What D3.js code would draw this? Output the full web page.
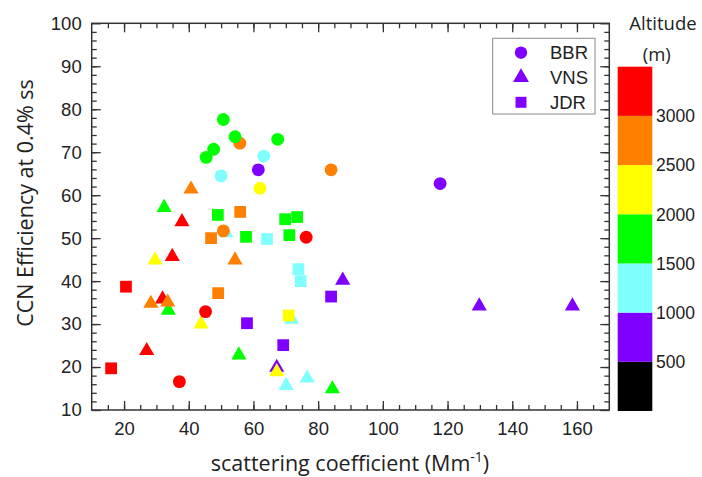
<!DOCTYPE html>
<html>
<head>
<meta charset="utf-8">
<script src="https://d3js.org/d3.v7.min.js"></script>
<style>
  body { margin: 0; background: #fff; }
  svg { display: block; }
</style>
</head>
<body>
<div id="chart"></div>
<script>
// [scattering, CCN efficiency, altitude]
const vns = [
  [40.7, 61.4, 2750], [32.4, 57.1, 1750], [37.9, 53.8, 3250], [51.5, 51.2, 1250],
  [29.6, 44.9, 2250], [34.9, 45.7, 3250], [54.3, 44.9, 2750], [87.6, 40.2, 750],
  [33.7, 33.2, 1750], [31.9, 35.8, 3250], [28.3, 34.8, 2750], [33.5, 35.1, 2750],
  [43.8, 30.0, 2250], [71.8, 31.1, 1250], [27.0, 23.8, 3250], [55.5, 22.8, 1750],
  [67.2, 19.9, 750], [67.2, 18.9, 2250], [70.1, 15.7, 1250], [76.6, 17.4, 1250],
  [84.4, 14.9, 1750], [129.8, 34.2, 750], [158.6, 34.2, 750]
];
const jdr = [
  [49.0, 55.4, 1750], [55.9, 56.1, 2750], [69.8, 54.4, 1750], [73.5, 54.9, 1750],
  [46.9, 50.0, 2750], [57.7, 50.3, 1750], [64.2, 49.8, 1250], [71.1, 50.7, 1750],
  [73.9, 42.8, 1250], [74.6, 40.0, 1250], [20.6, 38.7, 3250], [49.1, 37.2, 2750],
  [84.0, 36.4, 750], [58.0, 30.2, 750], [70.9, 32.0, 2250], [69.2, 25.1, 750],
  [16.0, 19.7, 3250]
];
const bbr = [
  [55.8, 72.1, 2750], [50.7, 77.6, 1750], [54.3, 73.6, 1750], [67.5, 73.0, 1750],
  [47.7, 70.7, 1750], [45.4, 68.8, 1750], [63.2, 69.1, 1250], [61.5, 65.9, 750],
  [84.0, 65.9, 2750], [50.0, 64.5, 1250], [62.0, 61.6, 2250], [50.7, 51.7, 2750],
  [76.3, 50.2, 3250], [45.2, 32.9, 3250], [37.1, 16.6, 3250], [117.7, 62.7, 750]
];
const altBreaks = [500, 1000, 1500, 2000, 2500, 3000];
const altColors = ['#000000', '#8000ff', '#80ffff', '#00ff00', '#ffff00', '#ff8000', '#ff0000'];
const xTicks = [20, 40, 60, 80, 100, 120, 140, 160];
const yTicks = [10, 20, 30, 40, 50, 60, 70, 80, 90, 100];

const W = 702, H = 477;
const svg = d3.select('#chart').append('svg')
  .attr('width', W).attr('height', H)
  .attr('xmlns', 'http://www.w3.org/2000/svg');

const x = d3.scaleLinear().domain([10, 170]).range([91.7, 609.3]);
const y = d3.scaleLinear().domain([10, 100]).range([410, 23.3]);
const color = d3.scaleThreshold().domain(altBreaks).range(altColors);

const tickFont = 'Liberation Sans, Arial, sans-serif';
const axisColor = '#333';

// 散点：三角形 -> 方块 -> 圆
const layers = [
  { data: vns, type: d3.symbolTriangle, size: 100 },
  { data: jdr, type: d3.symbolSquare, size: 138 },
  { data: bbr, type: d3.symbolCircle, size: 130 }
];
layers.forEach(l => {
  svg.append('g').selectAll('path')
    .data(l.data)
    .enter().append('path')
    .attr('d', d3.symbol().type(l.type).size(l.size))
    .attr('transform', d => `translate(${x(d[0])},${y(d[1])})`)
    .attr('fill', d => color(d[2]));
});

// 坐标轴（刻度朝内）
function styleAxis(g) {
  g.select('.domain').remove();
  g.selectAll('line').attr('stroke', axisColor).attr('stroke-width', 1.3);
  g.selectAll('text').attr('fill', '#222').style('font-family', tickFont).style('font-size', '18.5px');
}
const xMinor = d3.range(15, 170, 5);
const yMinor = d3.range(12, 100, 2);

svg.append('g').attr('transform', 'translate(0,410)')
  .call(d3.axisBottom(x).tickValues(xTicks).tickSize(-9).tickSizeOuter(0).tickPadding(12))
  .call(styleAxis);
svg.append('g').attr('transform', 'translate(0,410)')
  .call(d3.axisBottom(x).tickValues(xMinor).tickSize(-5).tickFormat(''))
  .call(styleAxis);
svg.append('g').attr('transform', 'translate(0,23.3)')
  .call(d3.axisTop(x).tickValues(xTicks).tickSize(-9).tickFormat(''))
  .call(styleAxis);
svg.append('g').attr('transform', 'translate(0,23.3)')
  .call(d3.axisTop(x).tickValues(xMinor).tickSize(-5).tickFormat(''))
  .call(styleAxis);

svg.append('g').attr('transform', 'translate(91.7,0)')
  .call(d3.axisLeft(y).tickValues(yTicks).tickSize(-9).tickPadding(10))
  .call(styleAxis);
svg.append('g').attr('transform', 'translate(91.7,0)')
  .call(d3.axisLeft(y).tickValues(yMinor).tickSize(-5).tickFormat(''))
  .call(styleAxis);
svg.append('g').attr('transform', 'translate(609.3,0)')
  .call(d3.axisRight(y).tickValues(yTicks).tickSize(-9).tickFormat(''))
  .call(styleAxis);
svg.append('g').attr('transform', 'translate(609.3,0)')
  .call(d3.axisRight(y).tickValues(yMinor).tickSize(-5).tickFormat(''))
  .call(styleAxis);

svg.append('rect')
  .attr('x', x(10)).attr('y', y(100))
  .attr('width', x(170) - x(10)).attr('height', y(10) - y(100))
  .attr('fill', 'none').attr('stroke', axisColor).attr('stroke-width', 1.5);

// 轴标题
const titleFont = 'Open Sans, Noto Sans, sans-serif';
svg.append('text')
  .attr('transform', 'translate(33,203) rotate(-90)')
  .attr('text-anchor', 'middle')
  .style('font-family', titleFont).style('font-size', '21.5px').attr('fill', '#222')
  .text('CCN Efficiency at 0.4% ss');

const xt = svg.append('text')
  .attr('x', 350).attr('y', 471)
  .attr('text-anchor', 'middle')
  .style('font-family', titleFont).style('font-size', '21.5px').attr('fill', '#222');
xt.append('tspan').text('scattering coefficient (Mm');
xt.append('tspan').attr('dy', -9).style('font-size', '14px').text('-1');
xt.append('tspan').attr('dy', 9).text(')');

// 图例
const legendItems = [
  { name: 'BBR', type: d3.symbolCircle, size: 120 },
  { name: 'VNS', type: d3.symbolTriangle, size: 110 },
  { name: 'JDR', type: d3.symbolSquare, size: 120 }
];
const lg = svg.append('g');
lg.append('rect')
  .attr('x', 492.7).attr('y', 38.3).attr('width', 102.3).attr('height', 75.7)
  .attr('fill', '#fff').attr('stroke', '#888').attr('stroke-width', 1);
legendItems.forEach((d, i) => {
  const cy = 52.7 + i * 24.8;
  lg.append('path')
    .attr('d', d3.symbol().type(d.type).size(d.size))
    .attr('transform', `translate(521,${cy})`)
    .attr('fill', '#8000ff');
  lg.append('text')
    .attr('x', 550).attr('y', cy).attr('dy', '0.36em')
    .style('font-family', tickFont).style('font-size', '18.5px').attr('fill', '#222')
    .text(d.name);
});

// 色标
const cb = d3.scaleLinear().domain([0, 3500]).range([411, 66.7]);
const bandEdges = [0, ...altBreaks, 3500];
svg.append('g').selectAll('rect')
  .data(altColors)
  .enter().append('rect')
  .attr('x', 617.7).attr('width', 34.6)
  .attr('y', (c, i) => cb(bandEdges[i + 1]))
  .attr('height', (c, i) => cb(bandEdges[i]) - cb(bandEdges[i + 1]))
  .attr('fill', c => c);
svg.append('g').selectAll('text')
  .data(altBreaks)
  .enter().append('text')
  .attr('x', 656).attr('y', d => cb(d)).attr('dy', '0.36em')
  .style('font-family', tickFont).style('font-size', '17.5px').attr('fill', '#222')
  .text(d => d);
svg.append('text')
  .attr('x', 663).attr('y', 30).attr('text-anchor', 'middle')
  .style('font-family', titleFont).style('font-size', '18.5px').attr('fill', '#222')
  .text('Altitude');
svg.append('text')
  .attr('x', 656.7).attr('y', 61).attr('text-anchor', 'middle')
  .style('font-family', titleFont).style('font-size', '18.5px').attr('fill', '#222')
  .text('(m)');
</script>
</body>
</html>
